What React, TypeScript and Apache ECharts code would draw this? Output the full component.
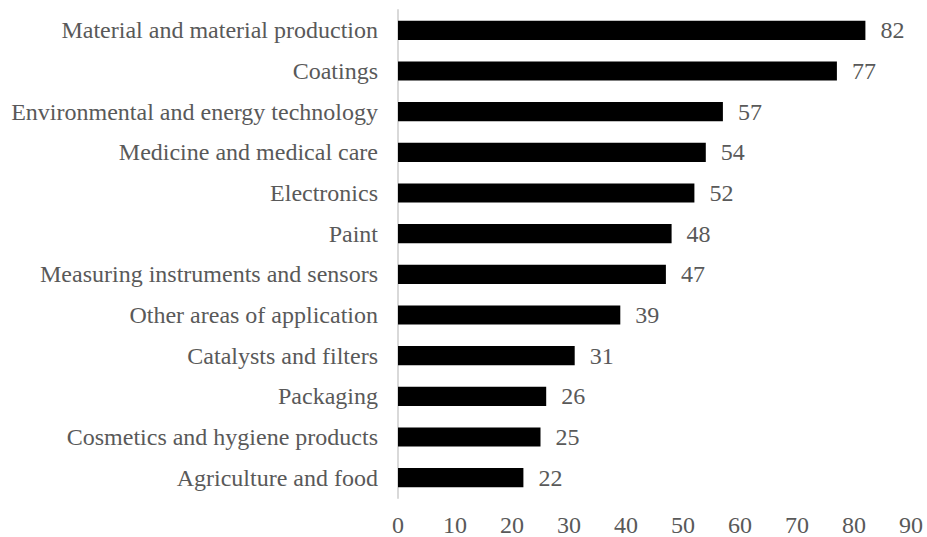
import React, { useEffect, useRef } from "react";
import * as echarts from "echarts";

const categories = [
  "Agriculture and food",
  "Cosmetics and hygiene products",
  "Packaging",
  "Catalysts and filters",
  "Other areas of application",
  "Measuring instruments and sensors",
  "Paint",
  "Electronics",
  "Medicine and medical care",
  "Environmental and energy technology",
  "Coatings",
  "Material and material production",
];
const values = [22, 25, 26, 31, 39, 47, 48, 52, 54, 57, 77, 82];

const FONT = "'Liberation Serif', 'Times New Roman', serif";

export default function App() {
  const ref = useRef<HTMLDivElement>(null);
  useEffect(() => {
    const chart = echarts.init(ref.current!, null, { renderer: "svg" });
    chart.setOption({
      animation: false,
      grid: { left: 398, right: 16, top: 10, bottom: 39, containLabel: false },
      xAxis: {
        type: "value",
        min: 0,
        max: 90,
        interval: 10,
        splitLine: { show: false },
        axisLine: { show: false },
        axisTick: { show: false },
        axisLabel: { color: "#595959", fontFamily: FONT, fontSize: 24, margin: 15 },
      },
      yAxis: {
        type: "category",
        data: categories,
        axisLine: { show: true, lineStyle: { color: "#d9d9d9", width: 2 } },
        axisTick: { show: false },
        axisLabel: { color: "#595959", fontFamily: FONT, fontSize: 24, margin: 20 },
      },
      series: [
        {
          type: "bar",
          data: values,
          barCategoryGap: "53%",
          itemStyle: { color: "#000000" },
          label: {
            show: true,
            position: "right",
            distance: 15,
            color: "#595959",
            fontFamily: FONT,
            fontSize: 24,
          },
        },
      ],
    });
    return () => chart.dispose();
  }, []);
  return <div ref={ref} style={{ width: 927, height: 537, position: "absolute", left: 0, top: 0 }} />;
}
